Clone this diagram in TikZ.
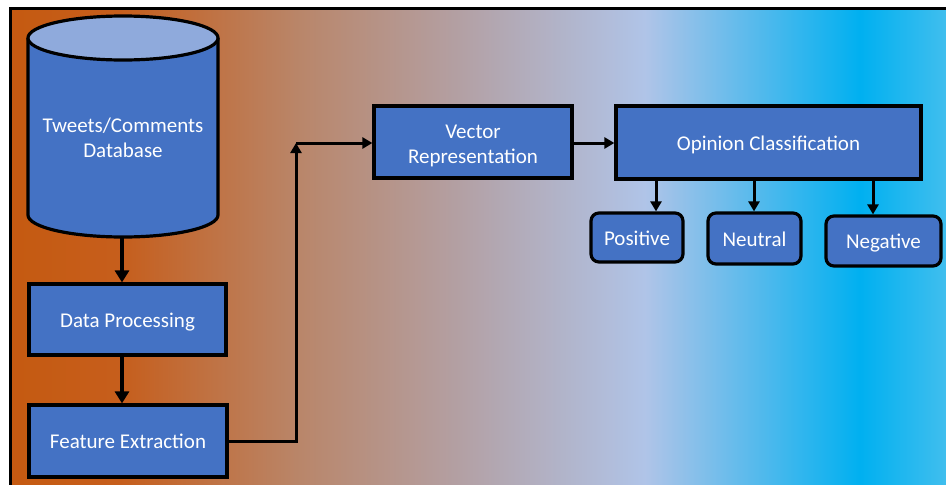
\documentclass[tikz,border=0pt]{standalone}
\usepackage{fontspec}
\setmainfont{Carlito}
\usetikzlibrary{arrows.meta}
\definecolor{boxblue}{HTML}{4472C4}
\definecolor{topblue}{HTML}{8FAADC}
\definecolor{g1}{HTML}{C55A11}
\definecolor{g2}{HTML}{C65E1C}
\definecolor{g3}{HTML}{B9866A}
\definecolor{g4}{HTML}{B3A0A4}
\definecolor{g5}{HTML}{B0C4E8}
\definecolor{g6}{HTML}{00B0F0}
\definecolor{g7}{HTML}{40BEEE}
\newcommand\bltext[1]{\raisebox{0pt}[17pt][2pt]{#1}}
\tikzset{
  box/.style={draw=black, line width=3.2pt, fill=boxblue, text=white, align=center,
    font=\fontsize{21}{25}\selectfont, inner sep=0pt},
  leaf/.style={box, rounded corners=8pt},
  arr/.style={draw=black, line width=3pt, -{Triangle[length=10pt,width=11pt]}},
  bigarr/.style={draw=black, line width=4.2pt, -{Triangle[length=12pt,width=14pt]}},
  frame/.style={draw=black, line width=3pt}
}
\begin{document}
\begin{tikzpicture}[x=1pt,y=1pt]
\useasboundingbox (0,0) rectangle (946,-485);
\fill[white] (0,0) rectangle (946,-485);
% gradient background
\shade[left color=g1,right color=g2] (10,-8) rectangle (120.5,-485);
\shade[left color=g2,right color=g3] (120,-8) rectangle (300.5,-485);
\shade[left color=g3,right color=g4] (300,-8) rectangle (460.5,-485);
\shade[left color=g4,right color=g5] (460,-8) rectangle (645.5,-485);
\shade[left color=g5,right color=g6] (645,-8) rectangle (860.5,-485);
\shade[left color=g6,right color=g7] (860,-8) rectangle (946,-485);
\draw[frame] (10,-485) -- (10,-8) -- (946,-8);
% database cylinder
\path[fill=boxblue] (28,-38) -- (28,-215) arc[start angle=180,end angle=360,x radius=95,y radius=22] -- (218,-38) -- cycle;
\draw[line width=3.2pt] (28,-38) -- (28,-215) arc[start angle=180,end angle=360,x radius=95,y radius=22] -- (218,-38);
\draw[line width=3.2pt, fill=topblue] (123,-38) ellipse [x radius=95, y radius=22];
\node[text=white, inner sep=0pt, font=\fontsize{21}{25}\selectfont] (db) at (123,-157)
  {\raisebox{0pt}[0pt][0pt]{\begin{tabular}[b]{@{}c@{}}Tweets/Comments\\Database\end{tabular}}};
\coordinate (dbbot) at (122,-238);
% boxes
\node[box, minimum width=197pt, minimum height=71pt] (dp) at (127.5,-319.5) {\bltext{Data Processing}};
\node[box, minimum width=198pt, minimum height=72pt] (fe) at (128,-441) {\bltext{Feature Extraction}};
\node[box, minimum width=198pt, minimum height=72pt] (vr) at (473,-142)
  {\raisebox{0pt}[44pt][2pt]{\begin{tabular}[b]{@{}c@{}}Vector\\Representation\end{tabular}}};
\node[box, minimum width=305pt, minimum height=73pt] (oc) at (768.5,-142.5) {\bltext{Opinion Classification}};
\node[leaf, minimum width=92pt, minimum height=49pt] (pos) at (637,-237.5) {\bltext{Positive}};
\node[leaf, minimum width=93pt, minimum height=51pt] (neu) at (754.5,-238.5) {\bltext{Neutral}};
\node[leaf, minimum width=115pt, minimum height=50pt] (neg) at (883.5,-241) {\bltext{Negative}};
% connectors
\draw[bigarr] (dbbot) -- (dbbot |- dp.north);
\draw[bigarr] (dp.south -| dbbot) -- (dbbot |- fe.north);
\coordinate (corner) at (296,-143);
\draw[arr] (fe.east) -| (corner);
\draw[arr] (corner) -- (vr.west |- corner);
\draw[arr] (vr.east |- corner) -- (oc.west |- corner);
\coordinate (a1) at (656,0);
\coordinate (a2) at (754,0);
\coordinate (a3) at (873,0);
\draw[arr] (oc.south -| a1) -- (pos.north -| a1);
\draw[arr] (oc.south -| a2) -- (neu.north -| a2);
\draw[arr] (oc.south -| a3) -- (neg.north -| a3);
\end{tikzpicture}
\end{document}
